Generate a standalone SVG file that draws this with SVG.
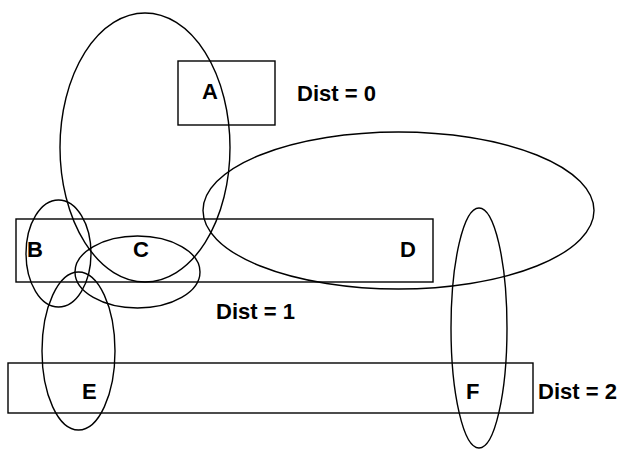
<svg xmlns="http://www.w3.org/2000/svg" width="621" height="449" viewBox="0 0 621 449">
<style>
.s{fill:none;stroke:#000;stroke-width:1.4}
.t{font-family:"Liberation Sans",Arial,sans-serif;font-weight:bold;font-size:22px;fill:#000}
</style>
<rect width="621" height="449" fill="#fff"/>
<g id="rectA"><rect class="s" x="178" y="61" width="97" height="64"/></g>
<g id="rectBD"><rect class="s" x="16" y="219" width="417" height="63"/></g>
<g id="rectEF"><rect class="s" x="8" y="363" width="525" height="50"/></g>
<g id="connectors">
<ellipse id="ellA" class="s" cx="145" cy="147.5" rx="85" ry="134.5"/>
<ellipse id="ellB" class="s" cx="58.5" cy="253.5" rx="32.5" ry="53.5"/>
<ellipse id="ellC" class="s" cx="137.5" cy="272" rx="62.5" ry="36"/>
<ellipse id="ellD" class="s" cx="398.5" cy="210.5" rx="195.5" ry="78.5"/>
<ellipse id="ellE" class="s" cx="78.5" cy="351" rx="36.5" ry="79"/>
<ellipse id="ellF" class="s" cx="479" cy="328" rx="28" ry="120"/>
</g>
<g id="labels">
<text class="t" x="202" y="99">A</text>
<text class="t" x="297" y="101">Dist = 0</text>
<text class="t" x="27" y="257">B</text>
<text class="t" x="133" y="257">C</text>
<text class="t" x="400" y="257">D</text>
<text class="t" x="216" y="319">Dist = 1</text>
<text class="t" x="82" y="399">E</text>
<text class="t" x="466" y="399">F</text>
<text class="t" x="538" y="399">Dist = 2</text>
</g>
</svg>
